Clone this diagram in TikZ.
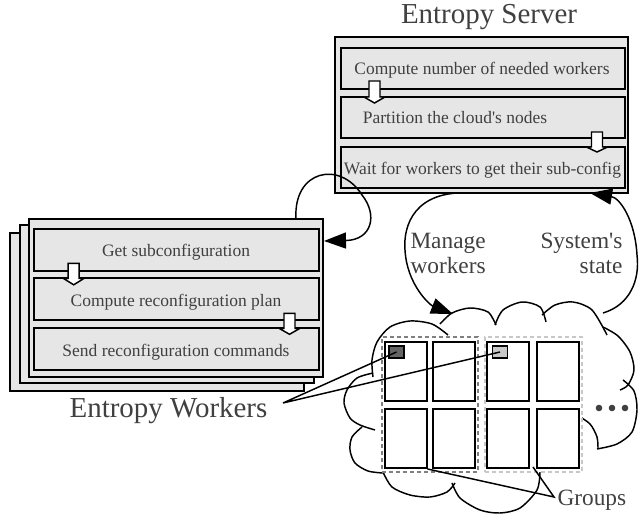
\documentclass[tikz,border=0pt]{standalone}
\usepackage{fontspec}
\setmainfont{Liberation Serif}
\usetikzlibrary{arrows.meta}

\definecolor{panelgrey}{RGB}{230,230,230}
\definecolor{inkgrey}{RGB}{64,64,64}
\definecolor{groupdark}{RGB}{128,128,128}
\definecolor{grouplight}{RGB}{200,200,200}
\definecolor{workerdark}{RGB}{100,100,100}
\definecolor{workerlight}{RGB}{200,200,200}

\tikzset{every picture/.style={line width=0.75pt}}
\tikzset{
  panel/.style={draw, fill=panelgrey, line width=1.5pt, inner sep=0pt, outer sep=0pt, minimum width=220.5pt, minimum height=118.5pt},
  stepbox/.style={draw, fill=panelgrey, line width=1.5pt, inner sep=0pt, outer sep=0pt, minimum width=213pt, minimum height=30.75pt},
  steptext/.style={text=inkgrey, inner sep=0.75pt, anchor=base, font=\fontsize{13.1}{15}\selectfont},
  titletext/.style={text=inkgrey, inner sep=0.75pt, anchor=base, font=\fontsize{21.7}{26}\selectfont},
  flowtext/.style={text=inkgrey, inner sep=0pt, font=\fontsize{17.5}{18.75}\selectfont},
  blockarrow/.style={draw, fill=white, line width=1.1pt, line join=miter},
  cloudline/.style={draw, line width=1.1pt},
  flowarrow/.style={draw, line width=1.1pt, -{Triangle[length=16.5pt,width=12pt]}},
  pointer/.style={draw, line width=1.1pt},
  cell/.style={draw, fill=white, line width=1.5pt, inner sep=0pt, minimum width=31.5pt, minimum height=44.25pt},
  group/.style={fill=white, line width=1.5pt, dash pattern={on 3pt off 2.25pt}, inner sep=0pt, minimum width=72pt, minimum height=101.25pt},
  worker/.style={draw, line width=1pt, inner sep=0pt, minimum width=11.25pt, minimum height=9pt}
}

\begin{document}
\begin{tikzpicture}[x=0.75pt,y=0.75pt,yscale=-1,xscale=1]
%set diagram at 639 x 516
\useasboundingbox (0,0) rectangle (639,516);

%Shape: Rectangle [server panel]
\node [panel, minimum width=219.75pt, minimum height=117pt] (srvPanel) at (481.5,115) {};
%Shape: Rectangle [server steps]
\node [stepbox] (srvA) at (483,68.5) {};
\node [stepbox] (srvB) at (483,117.5) {};
\node [stepbox] (srvC) at (483,167.5) {};
%Shape: Block Arrow
\draw [blockarrow, shift={(374.5,81)}] (-5.5,0) -- (5.5,0) -- (5.5,16) -- (10.5,16) -- (0,22) -- (-10.5,16) -- (-5.5,16) -- cycle ;
%Shape: Block Arrow
\draw [blockarrow, shift={(597,132)}] (-5.5,0) -- (5.5,0) -- (5.5,15) -- (10.5,15) -- (0,20) -- (-10.5,15) -- (-5.5,15) -- cycle ;

%Shape: Rectangle [worker stack]
\node [panel] (wkBack) at (157,312) {};
\node [panel] (wkMid) at (166.5,304) {};
\node [panel] (wkFront) at (176,298) {};
%Shape: Rectangle [worker steps]
\node [stepbox, minimum width=213.75pt, minimum height=31.5pt] (wkA) at (176.5,250) {};
\node [stepbox, minimum width=213.75pt, minimum height=31.5pt] (wkB) at (176.5,299.5) {};
\node [stepbox, minimum width=213.75pt, minimum height=31.5pt] (wkC) at (176.5,349) {};
%Shape: Block Arrow
\draw [blockarrow, shift={(73.7,263.3)}] (-5.5,0) -- (5.5,0) -- (5.5,15) -- (10.5,15) -- (0,21.5) -- (-10.5,15) -- (-5.5,15) -- cycle ;
%Shape: Block Arrow
\draw [blockarrow, shift={(289.5,313.3)}] (-5.5,0) -- (5.5,0) -- (5.5,15) -- (10.5,15) -- (0,21) -- (-10.5,15) -- (-5.5,15) -- cycle ;

%Shape: Cloud
\draw [cloudline] plot [smooth] coordinates {(448,335) (432,324) (410,321) (390,327) (377,342) (372,360) (373,377)};
\draw [cloudline] plot [smooth] coordinates {(440,324) (452,313) (470,308) (488,312) (496,325)};
\draw [cloudline] plot [smooth] coordinates {(495,325) (503,310) (522,302) (540,307) (546,322)};
\draw [cloudline] plot [smooth] coordinates {(542,315) (555,305) (573,302) (592,310) (607,335)};
\draw [cloudline] plot [smooth] coordinates {(603,327) (618,336) (630,352) (634,370) (628,385) (620,390)};
\draw [cloudline] plot [smooth] coordinates {(623,380) (634,391) (637,410) (632,432) (617,444) (597,449)};
\draw [cloudline] plot [smooth] coordinates {(577,415) (590,424) (597,437) (598,449)};
\draw [cloudline] plot [smooth] coordinates {(540,472) (537,490) (520,508) (500,513) (480,510) (460,498) (452,483)};
\draw [cloudline] plot [smooth] coordinates {(455,483) (447,492) (430,497) (410,495) (392,487) (383,472)};
\draw [cloudline] plot [smooth] coordinates {(383,473) (368,471) (355,463) (350,450) (352,437) (362,427)};
\draw [cloudline] plot [smooth] coordinates {(375,430) (360,425) (350,418) (344,403) (347,390) (357,378) (373,373)};

%Shape: Rectangle [groups]
\node [group, draw=groupdark] (grpA) at (430,404.5) {};
\node [group, draw=grouplight, minimum width=72.75pt] (grpB) at (533.5,404.5) {};
%Shape: Rectangle [nodes]
\node [cell] (c11) at (405.5,371.5) {};
\node [cell] (c12) at (454,371.5) {};
\node [cell] (c13) at (508,371.5) {};
\node [cell] (c14) at (557.5,371.5) {};
\node [cell] (c21) at (405.5,438.5) {};
\node [cell] (c22) at (454,438.5) {};
\node [cell] (c23) at (508,438.5) {};
\node [cell] (c24) at (557.5,438.5) {};
%Shape: Rectangle [workers]
\node [worker, fill=workerdark] (sqDark) at (396.5,352) {};
\node [worker, fill=workerlight] (sqLight) at (500,352) {};

%Straight Lines
\coordinate (wkPtr) at (283,403);
\draw [pointer] (sqDark.center) -- (wkPtr) -- (sqLight.center) ;
%Straight Lines
\coordinate (grpPtr) at (554,497);
\coordinate (grpFoot) at (533,467);
\draw [pointer] (c21.south east) -- (grpPtr) -- (grpFoot) ;

%Curve Lines
\coordinate (loopStart) at (296,219);
\coordinate (loopEnd) at (324,241);
\draw [flowarrow] (loopStart) .. controls (293,170) and (340,160) .. (362,195) .. controls (378,215) and (372,240) .. (loopEnd) ;
%Curve Lines
\coordinate (mgStart) at (470,193);
\coordinate (mgEnd) at (453,314);
\draw [flowarrow] (mgStart) .. controls (415,190) and (403,225) .. (405,250) .. controls (407,285) and (430,305) .. (mgEnd) ;
%Curve Lines
\coordinate (stStart) at (603,313);
\coordinate (stEnd) at (590,193);
\draw [flowarrow] (stStart) .. controls (630,305) and (640,280) .. (637,255) .. controls (635,220) and (620,198) .. (stEnd) ;

%Shape: Circle [more nodes]
\fill [inkgrey] (599,408) circle (3.3) ;
\fill [inkgrey] (612,408) circle (3.3) ;
\fill [inkgrey] (625,408) circle (3.3) ;

% Text Node
\node [titletext] (srvTitle) at (489,24) {Entropy Server};
% Text Node
\node [titletext] (wkTitle) at (168.5,417) {Entropy Workers};
% Text Node
\node [steptext] at (482,75) {Compute number of needed workers};
\node [steptext] at (455,124) {Partition the cloud\textquotesingle s nodes};
\node [steptext] at (482.5,175) {Wait for workers to get their sub-config};
% Text Node
\node [steptext] at (176,256.7) {Get subconfiguration};
\node [steptext] at (176,306.7) {Compute reconfiguration plan};
\node [steptext] at (176,356.7) {Send reconfiguration commands};
% Text Node
\node [flowtext, anchor=west, align=left] (mgText) at (410,253) {Manage\\workers};
\node [flowtext, anchor=east, align=right] (stText) at (623,253) {System\textquotesingle s\\state};
\node [flowtext, anchor=base west] (grpText) at (557,505) {Groups};

\end{tikzpicture}
\end{document}
